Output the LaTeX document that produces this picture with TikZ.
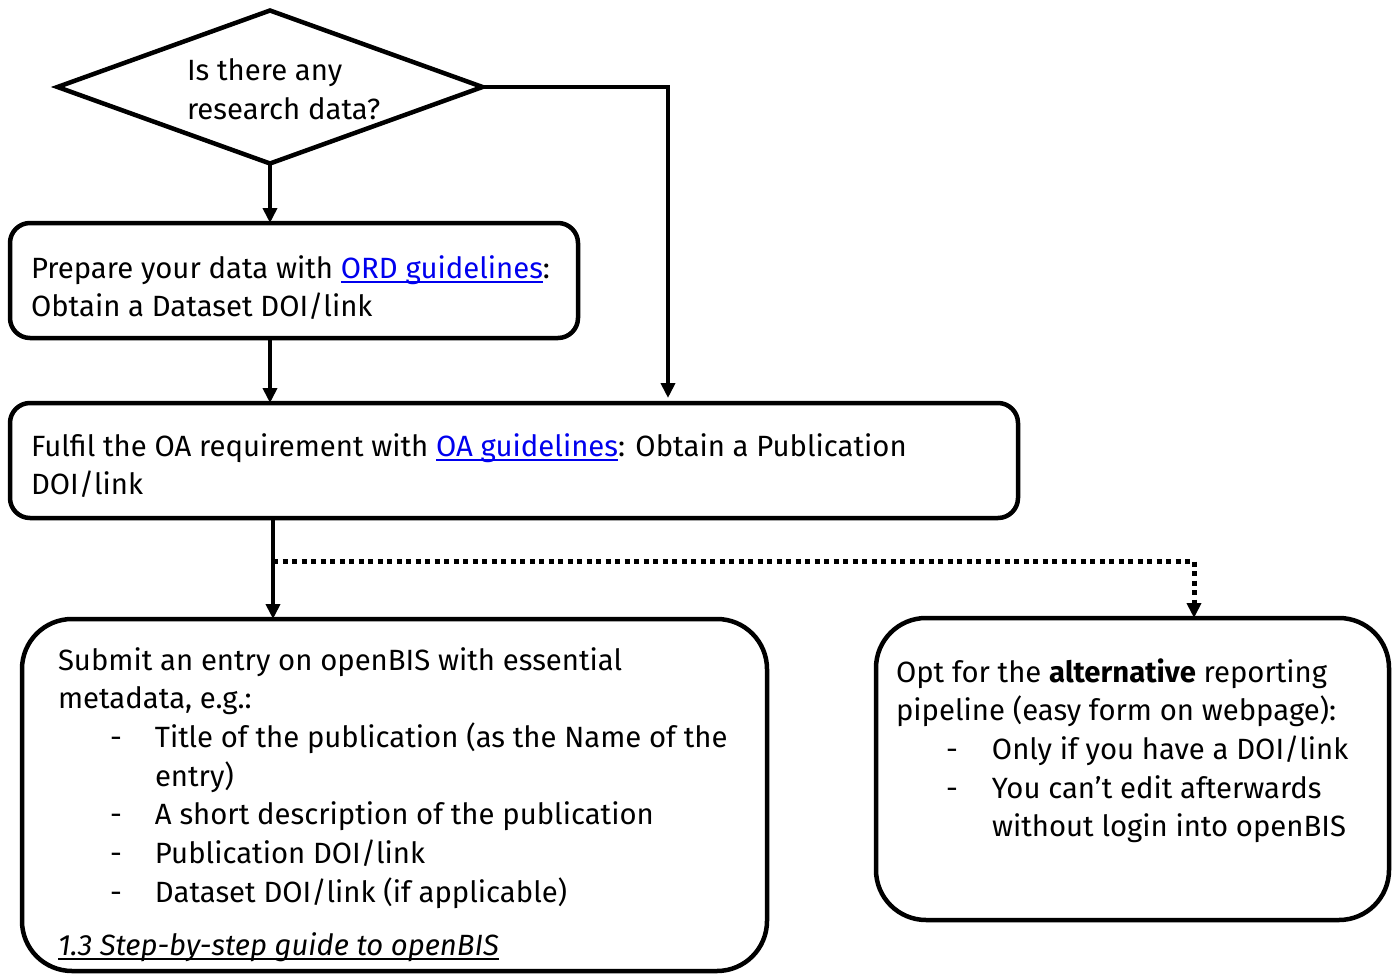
\documentclass[tikz,border=0pt]{standalone}
\usepackage{fontspec}
\setmainfont{Fira Sans}
\usetikzlibrary{arrows.meta,shapes.geometric}
\definecolor{linkblue}{RGB}{0,0,238}
\newcommand\myul[2][black]{\setbox0\hbox{#2}\rlap{\color{#1}\rule[-4.5pt]{\wd0}{2pt}}\box0}
\newcommand\lnk[1]{\textcolor{linkblue}{\myul[linkblue]{#1}}}
\newcommand\bulA{\makebox[97pt][l]{\hspace{52pt}-}}
\newcommand\bulB{\makebox[96pt][l]{\hspace{50pt}-}}
\begin{document}
\begin{tikzpicture}[x=1pt,y=-1pt,
  every node/.style={inner sep=0pt,outer sep=0pt},
  box/.style={draw,line width=4.5pt,rounded corners=20pt,anchor=north west},
  bigbox/.style={draw,line width=4.5pt,rounded corners=50pt,anchor=north west},
  txt/.style={anchor=base west,font=\fontsize{29.3}{38.7}\selectfont},
  arr/.style={line width=4.5pt,-{Triangle[width=14pt,length=15pt]}},
  dots/.style={line width=5pt,dash pattern=on 5pt off 4.5pt,-{Triangle[width=14pt,length=15pt]}}]
\useasboundingbox (0,0) rectangle (1395,974);
% diamond
\node[draw,diamond,line width=4.5pt,minimum width=425pt,minimum height=153pt] (d) at (270,87) {};
\node[txt] (dt) at (187,81) {\begin{tabular}[t]{@{}l@{}}Is there any\\research data?\end{tabular}};
% box 1
\node[box,minimum width=568pt,minimum height=115pt] (b1) at (10,223) {};
\node[txt] (b1t) at (31,278) {\begin{tabular}[t]{@{}l@{}}Prepare your data with \lnk{ORD guidelines}:\\Obtain a Dataset DOI/link\end{tabular}};
% box 2
\node[box,minimum width=1008pt,minimum height=115pt] (b2) at (10,403) {};
\node[txt] (b2t) at (31,456) {\begin{tabular}[t]{@{}l@{}}Fulfil the OA requirement with \lnk{OA guidelines}: Obtain a Publication\\DOI/link\end{tabular}};
% box 3
\node[bigbox,minimum width=745pt,minimum height=352pt] (b3) at (22,619) {};
\node[txt] (b3t) at (58,670) {\begin{tabular}[t]{@{}l@{}}Submit an entry on openBIS with essential\\
metadata, e.g.:\\
\bulA Title of the publication (as the Name of the\\
\hspace{97pt}entry)\\
\bulA A short description of the publication\\
\bulA Publication DOI/link\\
\bulA Dataset DOI/link (if applicable)\\[15pt]
\myul{\itshape 1.3 Step-by-step guide to openBIS}\end{tabular}};
% box 4
\node[bigbox,minimum width=513pt,minimum height=302pt] (b4) at (876,618) {};
\node[txt] (b4t) at (896,682) {\begin{tabular}[t]{@{}l@{}}Opt for the \textbf{alternative} reporting\\
pipeline (easy form on webpage):\\
\bulB Only if you have a DOI/link\\
\bulB You can’t edit afterwards\\
\hspace{96pt}without login into openBIS\end{tabular}};
% connectors
\coordinate (j) at (273,561);
\coordinate (k) at (1194,561);
\coordinate (r) at (668,0);
\draw[arr] (d.south) -- (d.south |- b1.north);
\draw[arr] (d.south |- b1.south) -- (d.south |- b2.north);
\draw[arr] (d.east) -| ([yshift=5pt]r |- b2.north);
\draw[arr] (j |- b2.south) -- (j |- b3.north);
\draw[dots] (j) -- (k) -- (k |- b4.north);
\end{tikzpicture}
\end{document}
